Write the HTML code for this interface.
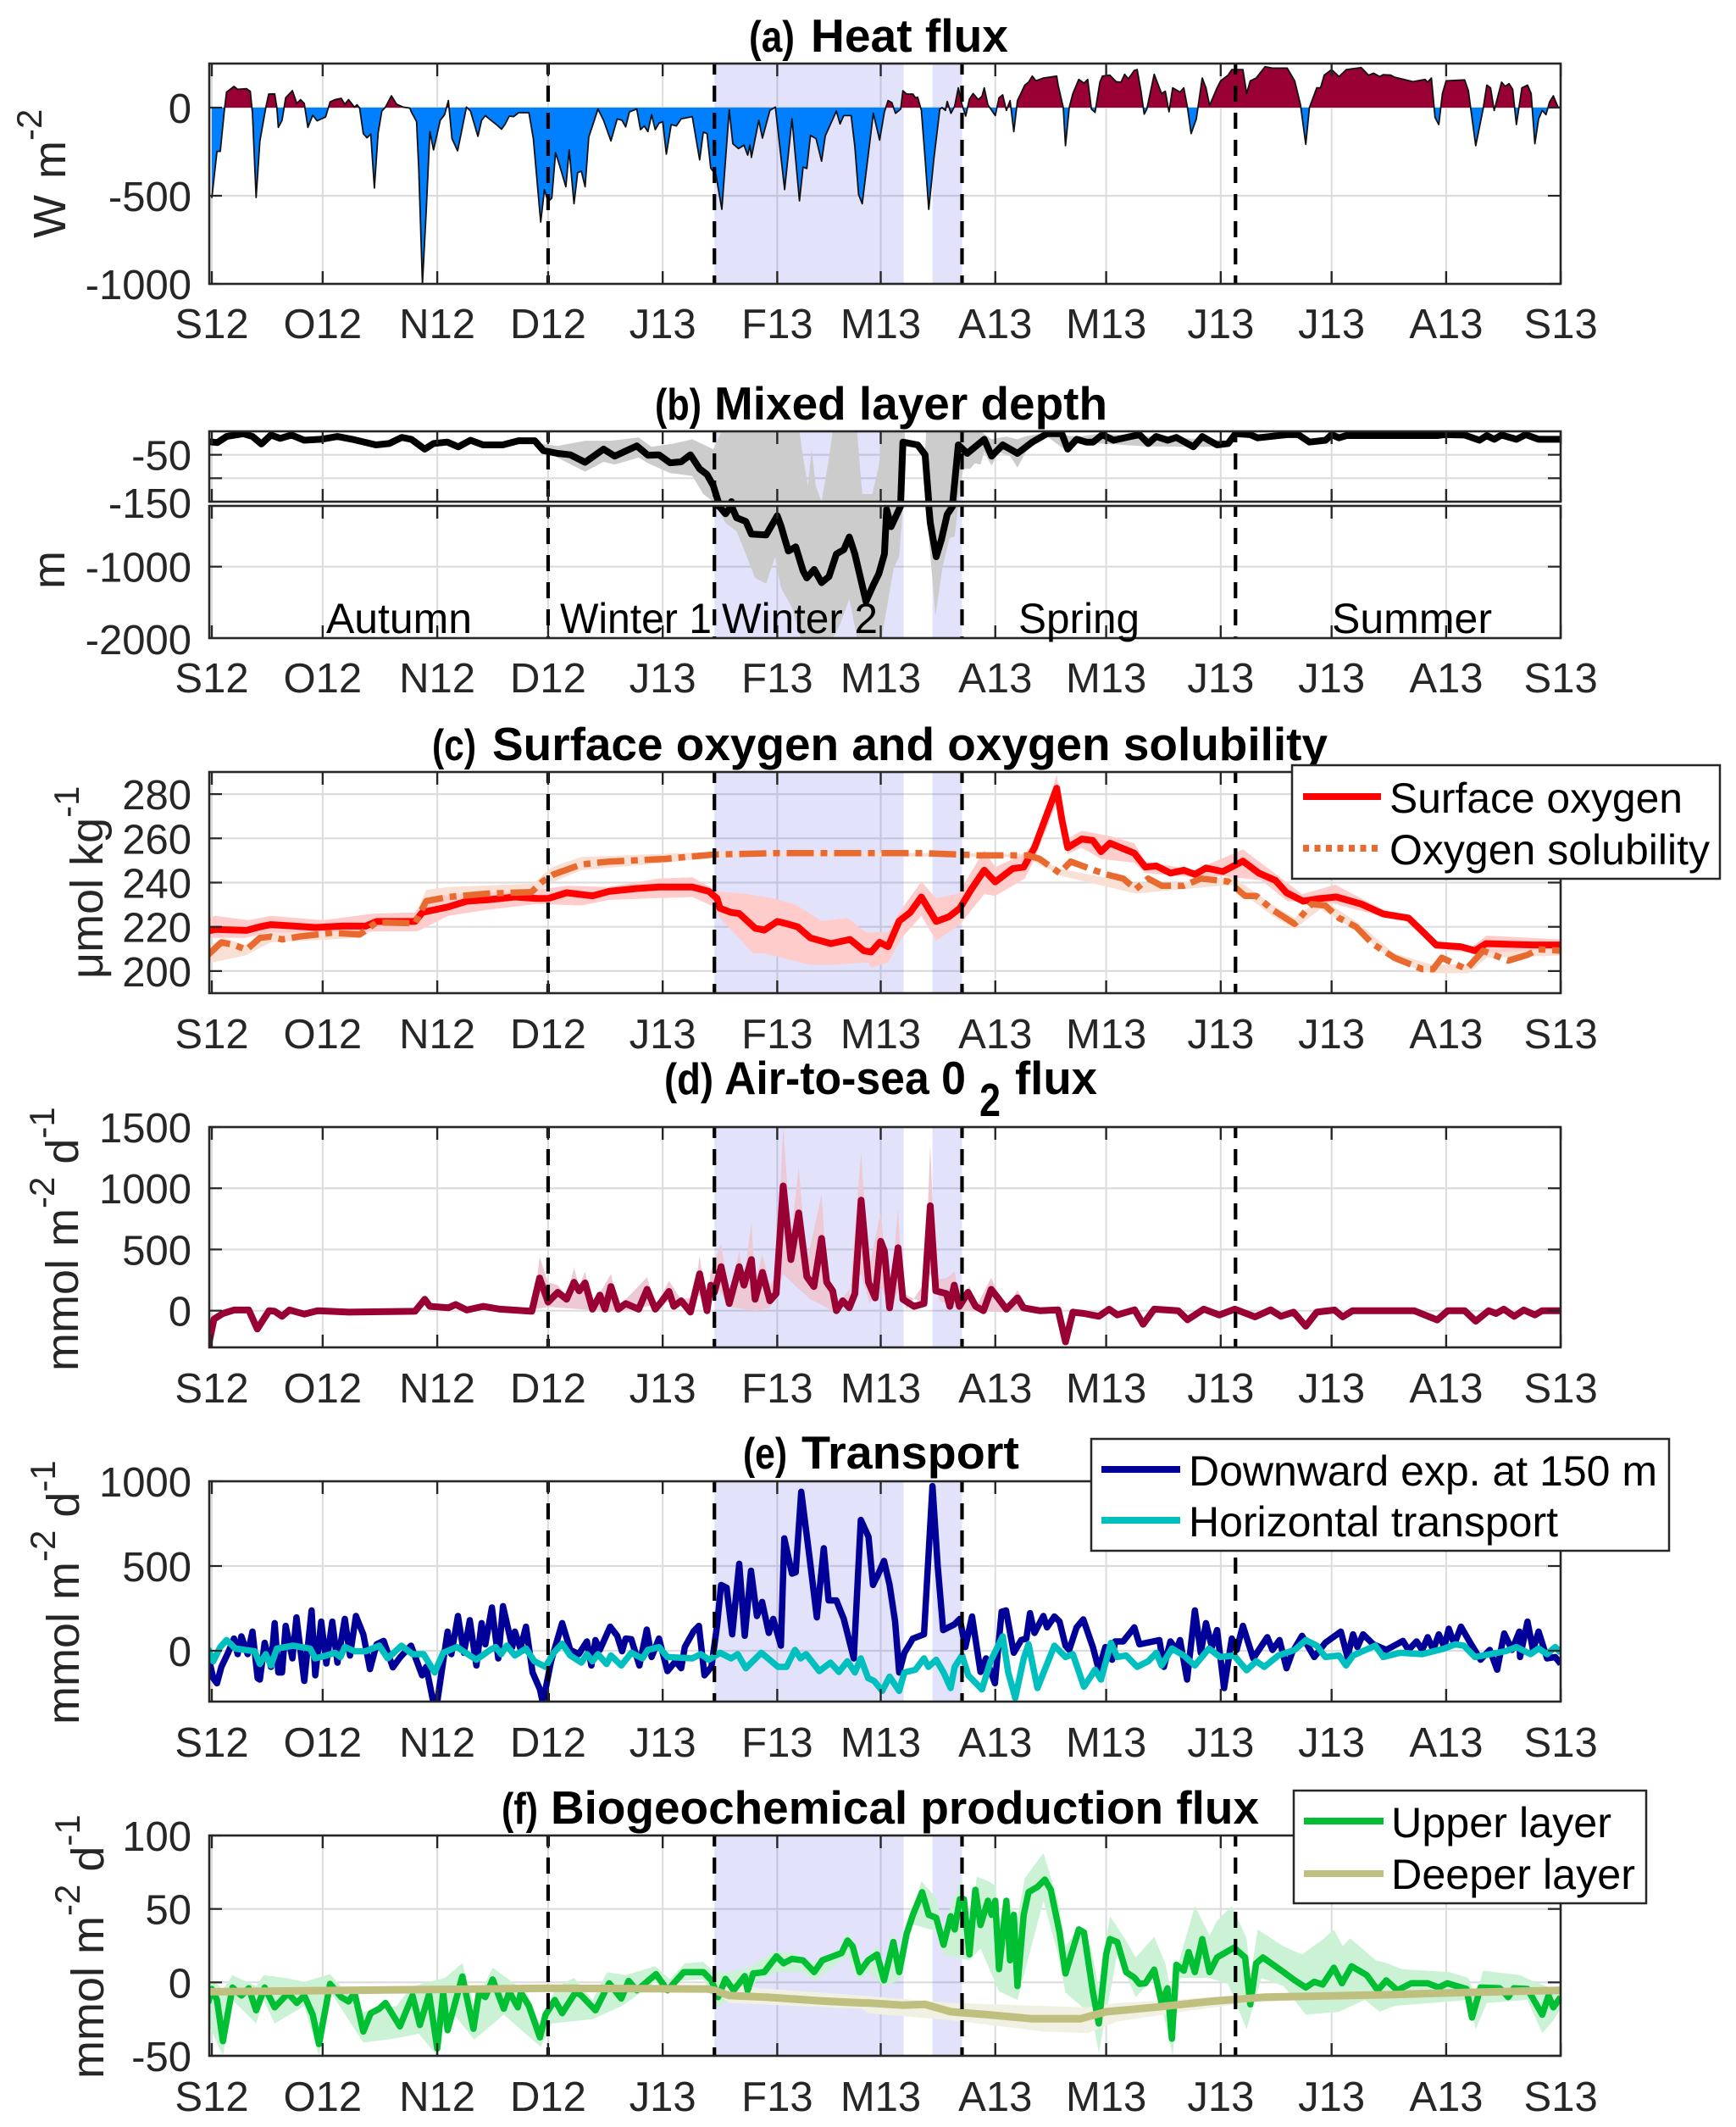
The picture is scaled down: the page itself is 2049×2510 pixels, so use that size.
<!DOCTYPE html>
<html lang="en">
<head>
<meta charset="utf-8">
<title>Heat flux, mixed layer depth, oxygen and transport time series</title>
<style>
html,body{margin:0;padding:0;background:#fff;}
svg{display:block;font-family:"Liberation Sans",Arial,sans-serif;}
</style>
</head>
<body>
<svg id="figure" xmlns="http://www.w3.org/2000/svg" width="2049" height="2510" viewBox="0 0 2049 2510">
<rect x="0" y="0" width="2049" height="2510" fill="#ffffff"/>
<defs id="clips"></defs>
<g id="plots"></g>

<g fill="#000" font-weight="bold" font-size="55">
<text x="884" y="61" font-size="52" textLength="54" lengthAdjust="spacingAndGlyphs">(a)</text>
<text x="957" y="61" textLength="233" lengthAdjust="spacingAndGlyphs">Heat flux</text>
<text x="773" y="495" font-size="52" textLength="55" lengthAdjust="spacingAndGlyphs">(b)</text>
<text x="843" y="495" textLength="464" lengthAdjust="spacingAndGlyphs">Mixed layer depth</text>
<text x="510" y="897" font-size="52" textLength="52" lengthAdjust="spacingAndGlyphs">(c)</text>
<text x="581" y="897" textLength="986" lengthAdjust="spacingAndGlyphs">Surface oxygen and oxygen solubility</text>
<text x="784" y="1291" font-size="52" textLength="58" lengthAdjust="spacingAndGlyphs">(d)</text>
<text x="855" y="1291" textLength="285" lengthAdjust="spacingAndGlyphs">Air-to-sea 0</text>
<text x="1156" y="1317" textLength="25" lengthAdjust="spacingAndGlyphs">2</text>
<text x="1198" y="1291" textLength="97" lengthAdjust="spacingAndGlyphs">flux</text>
<text x="877" y="1733" font-size="52" textLength="52" lengthAdjust="spacingAndGlyphs">(e)</text>
<text x="946" y="1733" textLength="257" lengthAdjust="spacingAndGlyphs">Transport</text>
<text x="592" y="2152" font-size="52" textLength="43" lengthAdjust="spacingAndGlyphs">(f)</text>
<text x="650" y="2152" textLength="836" lengthAdjust="spacingAndGlyphs">Biogeochemical production flux</text>
</g>

<g fill="#262626" font-size="54">
<text transform="translate(77,281) rotate(-90)" word-spacing="4">W m<tspan dy="-28" font-size="42">-2</tspan></text>
<text transform="translate(76,695) rotate(-90)">m</text>
<text transform="translate(121,1155) rotate(-90)">μmol kg<tspan dy="-28" font-size="42">-1</tspan></text>
<text transform="translate(92,1618) rotate(-90)">mmol m<tspan dy="-28" font-size="42">-2</tspan><tspan dy="28"> d</tspan><tspan dy="-28" font-size="42">-1</tspan></text>
<text transform="translate(93,2035) rotate(-90)">mmol m<tspan dy="-28" font-size="42">-2</tspan><tspan dy="28"> d</tspan><tspan dy="-28" font-size="42">-1</tspan></text>
<text transform="translate(122,2453) rotate(-90)">mmol m<tspan dy="-28" font-size="42">-2</tspan><tspan dy="28"> d</tspan><tspan dy="-28" font-size="42">-1</tspan></text>
</g>

<g fill="#000" font-size="50">
<text x="385" y="747" textLength="172" lengthAdjust="spacingAndGlyphs">Autumn</text>
<text x="661" y="747" textLength="179" lengthAdjust="spacingAndGlyphs">Winter 1</text>
<text x="852" y="747" textLength="184" lengthAdjust="spacingAndGlyphs">Winter 2</text>
<text x="1202" y="747" textLength="143" lengthAdjust="spacingAndGlyphs">Spring</text>
<text x="1572" y="747" textLength="189" lengthAdjust="spacingAndGlyphs">Summer</text>
</g>

<g font-size="50" fill="#000">
<rect x="1525" y="903" width="505" height="134" fill="#fff" stroke="#262626" stroke-width="2.5"/>
<line x1="1538" y1="940" x2="1630" y2="940" stroke="#ff0000" stroke-width="8"/>
<text x="1640" y="959" textLength="346" lengthAdjust="spacingAndGlyphs">Surface oxygen</text>
<line x1="1538" y1="1001" x2="1630" y2="1001" stroke="#e86a2e" stroke-width="8" stroke-dasharray="7 6.5"/>
<text x="1640" y="1020" textLength="378" lengthAdjust="spacingAndGlyphs">Oxygen solubility</text>
</g>

<g font-size="50" fill="#000">
<rect x="1288" y="1698" width="682" height="132" fill="#fff" stroke="#262626" stroke-width="2.5"/>
<line x1="1300" y1="1734" x2="1393" y2="1734" stroke="#000099" stroke-width="8"/>
<text x="1403" y="1753" textLength="553" lengthAdjust="spacingAndGlyphs">Downward exp. at 150 m</text>
<line x1="1300" y1="1794" x2="1393" y2="1794" stroke="#00bfbf" stroke-width="8"/>
<text x="1403" y="1813" textLength="436" lengthAdjust="spacingAndGlyphs">Horizontal transport</text>
</g>

<g font-size="50" fill="#000">
<rect x="1527" y="2113" width="416" height="133" fill="#fff" stroke="#262626" stroke-width="2.5"/>
<line x1="1539" y1="2149" x2="1633" y2="2149" stroke="#00bf33" stroke-width="8"/>
<text x="1642" y="2168" textLength="260" lengthAdjust="spacingAndGlyphs">Upper layer</text>
<line x1="1539" y1="2211" x2="1633" y2="2211" stroke="#bfbf80" stroke-width="8"/>
<text x="1642" y="2229" textLength="288" lengthAdjust="spacingAndGlyphs">Deeper layer</text>
</g>
</svg>

<script>
// ---- shared axis data ----
const monthDays = [0,30,61,91,122,153,181,212,242,273,303,334,365];
const monthLabels = ['S12','O12','N12','D12','J13','F13','M13','A13','M13','J13','J13','A13','S13'];
const seasonBoundaryDays = [91,136,203,277];
const shadeStartDays = [136,195];
const shadeEndDays = [187.2,203];

// ---- panel (a) heat flux ----
const heatDays = [
0,1.4,2.3,3.4,4,6,7,9.4,10.4,11,
12,13,14.6,15.4,17,17.6,18,19,20,21.8,
23,24,25,26,27.3,28.5,30.8,32,33.3,35,
36,37,38.6,39.3,40,41,42,43,44,45,
46,47,48.6,50,51.8,53.6,54,55.4,56,57,
58,59,60,61.8,63,64,65,66.5,67.5,68.9,
70,72,73,74,76,77,78.4,79.3,80.5,81.7,
83,85.8,87,89,90,91,92,93,94,95.8,
96.7,98,99,100,101,102,104.5,106,108,109.7,
111,112,113,115,116,117,118,119,120,121,
122,123,124.3,125.7,127,130,132,133,134,135,
136.4,138,140,141,142.5,144,145,145.6,146,148,
149,151,152.5,153.7,155,157,159,160,161,162,
163.5,165,166,169,170,171,173,174,175,176,
177.7,179,180.7,182,183,184,185,186.4,187,188,
189.7,190.4,191,192,193,194,195.4,197,197.6,198.5,
199,200,201,202,203,204,205,206,207.4,208.4,
209,210,212,213,214,215,216,217,218,220,
221,222,223,225,228.6,229,230.4,231,232,233,
234.6,236,237,238,239,240.3,241,243,244.7,246,
247,248,249.6,250.4,251.4,252.3,253,255,257,258,
259,260,262,263,264,265,266.4,268,269,270,
272,273,275,276,279,280,281,282.6,285,287,
291,293,294.6,296,297,299,300,301,303,305,
307,311,313,314.4,316,317,319,320,325,328.3,
329,330,331,332,333,334,339,340,342,344,
345,346,347,349,350,351,352,353,354.5,356,
357,358,359,360,361,362,363,364.3,365];
const heatValues = [
-513,-248,-248,-16,88,120,104,107,93,-32,
-510,-192,0,77,78,0,-112,-72,56,96,
24,45,24,-112,-43,-75,-53,32,45,53,
19,45,3,16,-3,-147,-171,-150,-456,-144,
-19,3,67,19,3,-3,-24,-80,-352,-1000,
-593,-136,-240,-72,-40,40,-176,-245,-144,3,
-19,-163,-72,-45,-80,-96,-122,-96,-48,-51,
-29,-29,-176,-649,-465,-534,-513,-256,-320,-449,
-240,-545,-369,-360,-449,-168,-8,-72,-189,-64,
-72,-109,-24,-8,-125,-104,-136,-40,-125,-88,
-80,-264,-96,-104,-64,-51,-296,-139,-147,-344,
-381,-577,-13,-205,-232,-213,-269,-213,-282,-72,
-173,-16,3,-221,-465,-64,-529,-337,-345,-157,
-176,-304,-160,-19,-93,-45,-45,-221,-493,-545,
-256,-32,-184,-24,40,29,-32,-8,96,77,
77,56,59,-16,-288,-577,-288,-8,0,-16,
35,-32,8,112,16,-48,48,80,45,64,
112,16,-45,56,72,-16,40,-136,40,128,
144,179,152,168,179,128,0,-216,0,80,
160,139,160,-8,-27,144,179,184,147,144,
189,163,211,216,96,-37,-8,189,80,93,
-24,112,88,112,0,-147,-64,168,112,13,
112,152,184,216,216,80,152,168,232,224,
224,152,16,-208,0,112,112,184,216,176,
216,227,184,195,176,187,184,173,147,160,
144,168,-56,-96,80,152,157,96,-216,-8,
128,112,-16,144,120,136,104,-96,112,128,
80,-205,-64,-16,-40,32,67,0,5];
const heatTicks = [0,-500,-1000];
const heatTickLabels = ['0','-500','-1000'];

// ---- panel (b) mixed layer depth ----
const mldDays = [
-0.8,1.5,4,8.5,11,13.4,16,18.5,21.6,25,
29.5,34,38,44.4,48,51.4,54,57.6,60,63.7,
66.7,70,73.4,78.7,83,87.4,89.7,93.5,97,101,
106,109,115,118,121,124,127,129.5,132,134,
135.7,137,137.5,139,140.6,142,144.5,146,150,153,
154,156,158,160,161,163,165,167,169,171,
172.5,174,177,179,180.5,182,182.6,183.8,186.4,187,
191,193,194,194.4,196,197.4,199,200.5,202,204.4,
209,211,214,218,222,226,230,231.6,234,236.6,
238.5,241,244,248.6,251,253.4,255.5,258.7,261,265.6,
268,272,275,277,281,283,291,294,297,301.4,
303,305,307,331.6,333.5,339,343,345,347,349,
353,355.5,359,365];
const mldValues = [
-22,-24,-11,-5,-11,-27,-8,-15,-8,-19,
-17,-11,-17,-29,-26,-13,-17,-38,-26,-23,
-33,-19,-29,-29,-20,-20,-41,-47,-50,-66,
-38,-53,-31,-51,-50,-67,-65,-50,-80,-92,
-116,-149,-170,-260,-150,-316,-367,-545,-557,-288,
-427,-782,-723,-1059,-1158,-1039,-1225,-1138,-822,-763,
-585,-822,-1486,-1257,-1099,-822,-200,-440,-150,-23,
-29,-50,-150,-387,-861,-624,-269,-150,-29,-47,
-17,-53,-29,-47,-23,-5,-5,-38,-17,-23,
-23,-7,-19,-11,-7,-26,-11,-19,-13,-33,
-11,-29,-26,-5,-7,-14,-7,-7,-23,-19,
-7,-14,-9,-9,-7,-8,-19,-9,-17,-8,
-17,-7,-17,-17];
const mldShallowDays = [
88,93.5,101,108,115.5,119,125,130,135.7,138,
159,160,161.3,162.3,163.4,165,167,168,174.6,176,
178.7,180.5,181.3,187.4,187.8,193,193.3,202,204,208,
211,215,218,220,226,234,240,276,277];
const mldShallowValues = [
-25,-31,-20,-20,-13,-33,-26,-17,-38,0,
0,-56,-116,-38,-116,-150,-56,0,0,-134,
-134,-74,0,0,-25,-40,0,0,-2,0,
-17,-11,-17,-11,-2,-12,-5,-20,-4];
const mldDeepDays = [
88,93.5,101,106,109,115.5,118,124,127,130,
133,135.7,136.6,139,142,144.5,147,150,152.4,154,
157,159.4,168,170,172.5,174.6,181.3,182,184.5,186,
187,187.8,193,193.3,195.8,197.7,199.6,201,202,203.3,
205.2,206.5,208,209,211,212.8,216,218,220.3,222,
226,231.6,234,253,272,277];
const mldDeepValues = [
-25,-56,-86,-65,-71,-56,-68,-89,-92,-95,
-134,-150,-150,-387,-506,-822,-1158,-1237,-862,-1296,
-1573,-2000,-2000,-1810,-1454,-2000,-2000,-1770,-1020,-860,
-150,-25,-40,-150,-1690,-1015,-600,-580,-150,-80,
-80,-68,-71,-44,-74,-44,-53,-77,-44,-29,
-11,-44,-23,-32,-33,-8];
const mldUpperTicks = [-50,-100];
const mldUpperTickLabels = ['-50',''];
const mldLowerTicks = [-1000];
const mldLowerTickLabels = ['-1000'];

// ---- panel (c) oxygen ----
const oxygenDays = [
-1,1,9.4,13,16,22,28,35.6,41.6,44.6,
50,55,57,64,69,74.5,82,88,91,96,
103,107.5,115,121,130,134.5,136.7,137.5,140.5,142.7,
147,149.5,153,155.5,158.5,162,167.5,172.7,176.4,178.4,
180.7,183,186,189,192,196,199.4,202.4,205.4,209,
212,216.7,219.7,222.6,228.6,230,231.6,235.4,238.4,240.6,
243,249.6,252.6,255.6,259.4,263,266,269,273.6,279,
283.3,287.8,290.8,295.3,299.8,304.3,311,317,323.8,327.5,
331.3,338,341.8,344.8,357.5,365];
const oxygenValues = [
218.1,218.8,218.4,220,221,220.4,219.7,220.4,220.3,222.4,
222.4,222.4,226.5,229,231.6,232.2,233.5,232.8,232.8,235.4,
234,236,237.3,238,238,236,232.8,228.4,226.5,226,
219.4,218.5,222.4,221.4,220,215,212.4,214.3,209.2,208.6,
213,211,222.6,226.5,233.5,222.4,224.5,228.4,236.7,245.6,
240.3,246.3,247,255.8,282.7,268.6,255.8,259.7,259,254,
257.8,253.3,247,247.5,244.3,245.6,243.7,246.6,245,249.7,
244.3,241,235.4,231.6,232.8,233.5,230.3,225.8,224,218,
211.8,211,209.2,212.4,211.8,211.8];
const oxygenHighDays = [
-1,1,10,16,30,44,55,58,69,88,
96,107,121,130,137,145,152,158,165,172,
177,183,186,192,196,202,209,212,220,224,
228.6,230,231.6,235.4,243,249.6,252.6,266,279,287.8,
295,304,317,324,331,341,345,365];
const oxygenHighValues = [
223.9,225,223,225,223,226,226.5,233.5,235,236.7,
238.6,238,241.8,242.4,236,234.8,232.8,230,222.6,224,
217.5,217.5,226.5,240.5,232.8,235,254.6,247,253,262,
289,275,259.7,263.5,261,257.8,249.5,245.6,255,244,
234.8,239,227.7,225,213.7,211,216,214.3];
const oxygenLowDays = [
-1,9,16,31,45,55.7,64,74.5,88,100,
107.5,130,136,137.5,146.5,149.5,162,167.5,177.7,178.4,
183,186.7,192,196,202.4,209,212,220,222.6,228.6,
231.6,235.4,240.6,249.6,252.6,266,273.6,284,291,304,
317,324,331,342,365];
const oxygenLowValues = [
215,215,217.5,217.5,218,218,225,227.7,230.3,229.6,
232.2,233.5,229,224,208,208,202.8,202.8,204,201.5,
204,215,225,213.7,221,234.8,234,241.8,250.7,276,
253,255.8,250.7,249,244.3,242.4,243,241,231.6,230.3,
224.5,222.6,210,208,209.8];
const solubilityDays = [
-1,2.6,6,9.4,13,16,19,23.6,32.6,40,
44.6,55,58,64,74.5,86.5,89.5,92.5,100,107.5,
122.5,136,152.5,177.7,192.7,207.7,221,224,229.4,232.4,
237.6,242,246.6,250,253.4,257,263,267.6,275,279.6,
282.6,287,293,297.6,301.3,305,309.6,314,320,327.5,
330.5,332.8,339.5,344,350.8,356,359,365];
const solubilityValues = [
207.3,213,211.8,209.6,215,215.6,214.3,215.6,217.3,216.5,
222,221.6,231.6,233.5,235,235.7,240.5,243.7,248.2,249.5,
250.7,252.7,253.3,253.3,253.3,252.3,252.3,250.7,244.3,249.5,
246.3,243.7,241.8,237,241.8,238.6,238.6,241.8,240.5,234,
234,227.7,221.3,230.3,229.6,224,220,212.4,206,200.9,
200.9,206,200.9,209.2,204.7,207.3,209.8,209.2];
const solubilityHighDays = [
-1,3,9,16,40,45,55,58,64,87,
92,100,122,136,220,230,250,263,276,287,
293,300,310,320,330,340,345,365];
const solubilityHighValues = [
211,215,211.8,217.5,218,225,225,236.7,238,239.5,
247,251.6,253,254,253,246,239.5,240,243,230,
224,233,222,208,203,203,212,211.5];
const solubilityLowDays = [
-1,9,16,40,45,56,60,87,92,100,
122,136,150,220,230,250,263,276,287,293,
300,310,320,330,340,345,365];
const solubilityLowValues = [
203.5,207,213,215,219.4,219.4,228.4,233.5,240,245.6,
248.8,251.4,252,251.5,243,235,237,239,225,219,
228,218,204,199,199,206,207];
const oxygenTicks = [200,220,240,260,280];
const oxygenTickLabels = ['200','220','240','260','280'];

// ---- panel (d) air-to-sea flux ----
const airSeaDays = [
-1,0.6,3,6,10,12.3,15.5,17,19,21,
25,28.6,37,55,57.6,59,64,66,69,73.4,
78,86.6,88.7,91,93.6,96,98,99.4,101,103,
105,106.4,108,110,112,115.5,117.8,120,121.6,123.7,
125,127,129.5,132,134,135,136,137.8,140,142.7,
144,146,147,149,151,152.7,154.6,156.7,158.8,161,
162.9,165,166.4,168,169,170.7,172.5,174,175.7,177.7,
179.5,181,182,183.4,185.7,187,190,192.7,194.4,195.9,
198.8,199.7,200.9,202.3,204.6,206.7,208.8,210.9,213,215,
218,219.6,224,229,231,233,236,240,242.8,245,
249.7,252,255,261.5,264,268.4,272.6,276.8,282.3,286.5,
289.3,292.7,296,299,303.8,306,308.7,325.3,331.6,334.4,
339,342,345.5,347.5,349.6,352.4,355,358,360,365];
const airSeaValues = [
-300,-69,-23,5,5,-150,0,-5,-46,5,
-28,0,-12,-5,93,35,23,50,5,35,
12,-5,266,70,150,93,232,162,227,12,
127,12,197,12,58,12,174,12,70,157,
35,81,-12,301,0,208,150,359,58,359,
208,417,93,313,81,139,1019,417,799,278,
197,590,232,162,0,81,23,139,903,232,
104,567,486,23,514,93,35,58,857,162,
139,35,208,35,150,35,0,174,93,12,
104,23,0,7,-255,-12,-23,-46,12,-35,
7,-111,12,0,-74,12,-35,12,-51,7,
-46,-12,-127,-12,5,-51,0,0,-76,0,
0,-86,0,-23,12,-46,5,-35,0,0];
const airSeaHighDays = [
87,88.7,91,93.6,96,98,
99.4,101,103,108,110,117.8,120,123.7,127,130,
132,134,135,137.8,140,142.7,144,146,147,149,
151,152.7,154.6,156.7,158.8,161,165,166.4,169,172.5,
175.7,177.7,181,183.4,185.7,187,192.7,194.4,195.9,198.8,
201,202.3,205,207,210.9,213,215.5,218,221];
const airSeaHighValues = [
10,440,232,208,120,347,
200,320,40,300,30,273,30,243,90,20,
444,10,324,544,120,486,260,722,232,463,
208,278,1505,602,1169,394,949,324,23,60,
1296,324,810,60,833,140,58,1354,255,266,
324,60,200,40,270,120,40,170,10];
const airSeaLowDays = [
87,91,110,132,137,140,147,151,
154.6,158,162,168,175.7,178,181,184,186,188,
194.4,197,203,213,221];
const airSeaLowValues = [
10,30,-10,120,180,30,0,20,
300,200,93,0,300,60,200,0,200,10,
300,80,0,-10,10];
const airSeaTicks = [0,500,1000,1500];
const airSeaTickLabels = ['0','500','1000','1500'];

// ---- panel (e) transport ----
const downwardDays = [
-1,0.4,1.4,2.6,4.4,6,7,8,9.7,11,
12.4,13,14.3,16,17,18,19,20,21.8,22.9,
25,27,28,29.6,31,32.6,34,36,37.4,39,
41,42.8,44.6,46.5,49,51,53.9,56.9,58,59.9,
61,62.6,63.8,64.8,66.6,68.2,69.8,71.6,73,74,
75.8,77.5,78.8,81.3,82,83.5,85,86.8,88.8,89.5,
90.3,91.8,94.8,97,99.3,101.5,102.7,103.8,105,107.8,
109.7,111,112,113.5,115.7,117.7,119,121,123.3,125.5,
127,128,130.3,131.8,133.3,135.2,136.7,137.8,139.3,140.8,
142.7,144.2,145.9,147.5,148.9,150.7,151.9,154,154.9,157,
158,159.5,161.8,163.7,165.6,166.9,169,171,173.7,175.6,
177.7,178.9,180.2,181.9,183.4,184.9,186,187.4,189.7,192.7,
195,196.4,197.9,200.9,202.4,203.9,205.7,208,209.5,211.9,
213.7,214.9,217,219,220.4,221.4,222.6,225,226,228,
229.4,231,232,234,235.8,238.4,240,241.8,243.6,244.4,
246.6,249.6,251,256.4,257.6,259.4,261,262,263.9,266,
267.6,269,270.6,272,273.9,276,277.3,279,281.8,285.6,
287,288.9,290.8,292.3,295,298.3,301.3,305.5,307.3,308.8,
310,311.5,314.3,317.8,322.3,323.8,326,327.5,329,330.5,
332,333.5,334.7,336.2,338,340.3,343.3,345.8,347.8,349.7,
351.8,353.8,354,356,357.5,359,361.3,363.5,365];
const downwardValues = [
-28,-162,-192,-95,-12,72,-20,85,-20,113,
-162,-170,47,-95,163,-128,-128,147,-45,197,
-178,238,-145,172,-75,172,-70,188,-28,205,
97,-108,38,58,-98,-37,30,-145,-95,-300,
-300,-62,113,-20,205,-12,180,-87,163,38,
255,-45,263,22,113,13,142,-128,-228,-300,
-228,-62,163,5,-20,55,-87,63,5,142,
88,-3,72,68,-87,125,-37,72,-120,-62,
-103,22,113,147,-145,-95,147,388,372,97,
513,88,472,205,288,105,188,30,663,455,
463,938,538,197,605,297,297,188,-45,772,
672,388,445,530,388,172,-128,-12,72,97,
972,505,122,155,188,22,202,-125,-45,-192,
230,238,-12,63,72,222,105,205,138,202,
172,30,5,138,185,22,-112,22,-53,55,
55,138,38,63,-95,55,5,63,-170,238,
-12,163,22,122,-220,72,5,147,-45,80,
5,63,-103,-12,88,-37,47,113,-37,97,
22,97,38,5,58,5,55,5,80,5,
97,22,130,38,142,55,-53,5,-112,102,
5,113,-37,172,5,113,-45,-37,-78];
const horizontalDays = [
-1,0.4,2.3,4,6.4,11.6,13,14.6,16,17.6,
22,26.6,28,31,33.3,34.8,36,38.6,41.6,45.3,
47.6,51.3,54.3,57.3,60.3,62.6,66.3,71.6,75.3,76.8,
78.3,79.8,82,85,87.3,90.3,92.5,94.8,97,100,
101.5,103,104.5,106.8,108,110.8,113.5,116.5,118,121,
123.3,130,132.3,134.5,137.5,140.5,142.3,144.5,148.7,153.2,
155.5,157.8,159.3,160.8,164.4,167.4,169.7,172,174,175.6,
177.6,179.2,181.4,183.4,186,187.4,190.4,192.7,193.9,196,
198,199.9,201,203,204.7,208.4,210.7,214,215.5,217.4,
219.7,221,223.4,228,231,233,236,239,240.6,243.3,
245,247.4,250.4,253.4,255.6,257,259.8,263,266,269.8,
272.8,276.6,280,282.6,284.8,288.6,293,296,299,301.3,
305,306.9,308.8,314.8,317,321.5,327.5,333.5,336.5,338.8,
341.8,350,353,356.8,359,361.3,363.5,365];
const horizontalValues = [
13,-62,22,63,13,-3,-78,-20,-87,13,
30,13,-45,-28,-12,-37,22,-3,-3,30,
-45,30,-20,-20,-128,-12,22,-53,5,22,
-20,30,-28,13,-62,-95,-12,42,-28,-70,
-20,-62,-20,-78,-28,-87,-12,-45,5,22,
-37,-45,-20,-53,-12,-45,-20,-103,-12,-95,
-95,5,-45,-20,-120,-70,-125,-62,-128,-45,
-162,-178,-237,-153,-237,-128,-112,-45,-95,-53,
-128,-220,-95,-28,-145,-228,-62,85,-128,-278,
-45,38,-220,30,-37,-20,-212,-112,-170,47,
-37,-28,-95,-62,-12,-87,13,-28,-87,13,
-37,-28,-115,-62,-95,-28,5,63,30,-37,
-28,-87,-28,30,-37,-12,-20,13,38,30,
-37,-3,22,-20,13,-20,22,-12];
const transportTicks = [0,500,1000];
const transportTickLabels = ['0','500','1000'];

// ---- panel (f) production ----
const upperDays = [
-1,0,1.4,3,5.6,8,10,12,14.3,17,
20.6,23,25,27.3,29,32,35,37,38.6,41,
43,45.3,47,50.9,54.3,56.3,58.8,61,62.6,63.8,
67.8,70.8,72.3,74,76,79,80.5,82.8,83.6,85.8,
88.8,90.3,92.8,94.8,98.5,100,103.8,107.5,110.8,112.8,
115,120.2,123.3,127.7,133,135.2,137,139,141.2,144.2,
145,146.5,149.5,152.8,154.7,157,160,163,165.2,170.4,
172,173.4,175.3,177.6,180,181.9,184.4,186,188,189.7,
192.2,194,196,198,199.9,201,202.4,203.5,205,206.6,
208,210,211,212,213,215,216,217,218,219.7,
221,223.4,225.4,227,229.4,231,234.6,236,238.4,240,
242,243,245,247.4,249.6,251,252.6,255,257,258.6,
259.8,261,263,264.3,266,268,270,272,276.6,279.6,
281,282.6,284.4,290,293,296,298.3,300.6,303.6,305.8,
308.4,312.5,315.5,317.8,320.8,324.5,329,332,334.3,339.5,
341,343.3,348.5,350.8,352.3,356,360,361.7,363,365];
const upperValues = [
-14,-4.5,-12,-40,-3.5,-9,-4,-19,-3.5,-17,
-7.4,-14,-9,-22,-42,-1,-10,-13,-7,-33.5,
-21,-18,-14,-30,-9,-29,-8,-45,-7,-32.6,
4,-31.6,-7,-10,2,-18,-6.4,-17,-7,-16,
-37.4,-22,-12,-21,-6.4,-9,-19,-0.6,-11,1,
-5.4,5.6,-5.4,7,7,1.4,-10,2.3,-5.4,4.3,
-5.4,6,7,17.8,13,16,15,7,15,20,
28.5,24.6,7,15,19,1.4,27.5,7,33,46,
61.4,46,44,25.6,45,36,56.6,56.6,19,63,
39,55.6,46,55.6,9,55.6,15,46,-2.5,46,
61.4,65,70,63,34,6,36,34,-6.4,-28,
19,29.5,27.5,7,3.3,-1,-0.6,8.7,-14,-4,
-38.4,12,8,20.7,7,29.5,7,17,23.6,17,
-15,13,17,7,1.4,-3.5,0.4,-1.5,10,-0.6,
11,5,-5.4,1.4,-5.4,-0.6,-0.6,-3.5,-0.6,-4.5,
-24,-3.5,-4,-10,-4,-4.5,-22,-9,-17,-10];
const upperHighDays = [
-1,0,3,5.6,12,14,20,25,32,41,
50,54,63,67.8,71,76,82,85,89,93,
98,103,107,112,120,124,128,133,136,140,
146,152,157,163,171,172,176,180,182,184,
186,192,196,198,200,203,205,207,210,212,
213,215,218,220,225,229,231,235,238,240,
243,247,250,255,258,260,262,266,270,272,
276,280,281,283,290,295,298,301,303.6,306,
308,315,318,322,335,340,342,344,354,357,
362,365];
const upperHighValues = [
-5,2.3,-5,5,-2.5,5,3,0.4,5.6,-20,
-16,-3,3,13,-16,10,-1,-6,-30,-3.5,
3,-12,7,5,11,2,13,14,7,7,
11,20.7,20.7,13,24.6,35,13,25,7,35,
15,69,57.6,34,52,71,30,72,69,66,
42,57.6,44,71,88,55.6,24.6,38,22.7,-4,
45,30,17,31,13,-12,17,52,32,42,
52,30,3,36,24.6,19,24.6,30,36,24.6,
30,15,13,9,7,3,-10,8,5,1.4,
-3.5,-4];
const upperLowDays = [
-1,3,5.6,12,14,17,25,29,32,41,
50,56,61,63,71,79,89,92,103,111,
120,133,137,141,149,153,160,163,172,175,
177.7,182,186,189,196,198,205,208,213,218,
225,229,231,238,240,245,250,255,257,260,
262,270,275,280,284,290,296,305,312,316,
320,340,342,345,356,360,363,365];
const upperLowValues = [
-28,-50,-12,-28,-12,-28,-16,-50,-6,-41,
-38,-35,-50,-14,-39,-22,-44,-28,-25,-16,
0,2,-17,-10,3,7,7,1,18,1,
7,-2.5,1.4,40,35,19,15,23,-6,-12,
55.6,19,-7,-22,-48,19,-10,3,-16,-50,
3,3,-1,-32,3,-2.5,-22,-20,-12,-20,
-16,-12,-32,-14,-12,-34.5,-26,-18];
const deeperDays = [-1,91,134,136,140,150,165,176,177.7,187,193,200,210,222,235,242,255,270,285,300,320,340,365];
const deeperValues = [-6.4,-4,-4.5,-5.4,-9,-10,-12.6,-14,-14,-15.5,-15,-20,-22,-24.8,-24.8,-20,-17,-13,-10,-9.3,-8.3,-6.8,-5.4];
const deeperHighDays = [-1,134,136,140,176,200,225,237,245,260,280,300,365];
const deeperHighValues = [-6,-4,-4,-2.5,-9,-14,-16,-17,-14,-12,-8,-8,-5];
const deeperLowDays = [-1,134,136,140,176,177.7,200,225,237,245,260,280,300,365];
const deeperLowValues = [-7,-5,-5.5,-14,-18,-21,-25.8,-33.5,-34.5,-26.7,-21,-14,-11,-6];
const productionTicks = [-50,0,50,100];
const productionTickLabels = ['-50','0','50','100'];

// ---- axis functions and drawing helpers ----
const SVG_NS = 'http://www.w3.org/2000/svg';
const plotRoot = document.getElementById('plots');
const clipRoot = document.getElementById('clips');
const AXIS_LEFT = 247, AXIS_RIGHT = 1842;
const INK = '#262626';

function xAt(day){ return 250 + day * 4.362; }

function make(tag, attrs, parent){
  const node = document.createElementNS(SVG_NS, tag);
  for (const key in attrs) node.setAttribute(key, attrs[key]);
  parent.appendChild(node);
  return node;
}

function pathThrough(days, values, yAt){
  const n = Math.min(days.length, values.length);
  const parts = [];
  for (let i = 0; i < n; i++) parts.push(xAt(days[i]).toFixed(1) + ' ' + yAt(values[i]).toFixed(1));
  return parts;
}

function beginAxes(id, top, bottom, vTop, vBottom, ticks){
  const group = make('g', {}, plotRoot);
  
  
  const clip = make('clipPath', {id: 'clip-' + id}, clipRoot);
  make('rect', {x: AXIS_LEFT, y: top, width: AXIS_RIGHT - AXIS_LEFT, height: bottom - top}, clip);
  const yAt = v => top + (vTop - v) * (bottom - top) / (vTop - vBottom);
  monthDays.forEach(day => {
    const grid = make('line', {x1: xAt(day), x2: xAt(day), y1: top, y2: bottom, stroke: '#dcdcdc', 'stroke-width': 2}, group);
    
    
  });
  ticks.forEach(v => {
    const grid = make('line', {x1: AXIS_LEFT, x2: AXIS_RIGHT, y1: yAt(v), y2: yAt(v), stroke: '#dcdcdc', 'stroke-width': 2.2}, group);
    
    
  });
  shadeStartDays.forEach((start, i) => {
    const shade = make('rect', {x: xAt(start), y: top, width: xAt(shadeEndDays[i]) - xAt(start), height: bottom - top, fill: 'rgb(60,60,230)', 'fill-opacity': 0.15}, group);
    
    
  });
  const plot = make('g', {'clip-path': 'url(#clip-' + id + ')'}, group);
  
  
  return {id, group, plot, top, bottom, yAt, ticks};
}

function endAxes(ax, tickLabels, xLabelBaseline){
  seasonBoundaryDays.forEach(day => {
    const dash = make('line', {x1: xAt(day), x2: xAt(day), y1: ax.top, y2: ax.bottom, stroke: '#000', 'stroke-width': 4.2, 'stroke-dasharray': '19 13', 'stroke-dashoffset': 6}, ax.group);
    
    
  });
  monthDays.forEach(day => {
    const tickTop = make('line', {x1: xAt(day), x2: xAt(day), y1: ax.top, y2: ax.top + 15, stroke: INK, 'stroke-width': 2.4}, ax.group);
    
    
    const tickBottom = make('line', {x1: xAt(day), x2: xAt(day), y1: ax.bottom - 15, y2: ax.bottom, stroke: INK, 'stroke-width': 2.4}, ax.group);
    
    
  });
  ax.ticks.forEach((v, i) => {
    const tickLeft = make('line', {x1: AXIS_LEFT, x2: AXIS_LEFT + 15, y1: ax.yAt(v), y2: ax.yAt(v), stroke: INK, 'stroke-width': 2.2}, ax.group);
    
    
    const tickRight = make('line', {x1: AXIS_RIGHT - 15, x2: AXIS_RIGHT, y1: ax.yAt(v), y2: ax.yAt(v), stroke: INK, 'stroke-width': 2.2}, ax.group);
    
    
    if (tickLabels[i]) {
      const label = make('text', {x: 226, y: ax.yAt(v) + 18, 'text-anchor': 'end', 'font-size': 49, fill: INK}, ax.group);
      label.textContent = tickLabels[i];
      
      
    }
  });
  const box = make('rect', {x: AXIS_LEFT, y: ax.top, width: AXIS_RIGHT - AXIS_LEFT, height: ax.bottom - ax.top, fill: 'none', stroke: INK, 'stroke-width': 2.6}, ax.group);
  
  
  if (xLabelBaseline) {
    monthDays.forEach((day, i) => {
      const label = make('text', {x: xAt(day), y: xLabelBaseline, 'text-anchor': 'middle', 'font-size': 49, fill: INK}, ax.group);
      label.textContent = monthLabels[i];
      
      
    });
  }
}

function addLine(ax, days, values, color, width, name, dash){
  const attrs = {d: 'M' + pathThrough(days, values, ax.yAt).join('L'), fill: 'none', stroke: color, 'stroke-width': width, 'stroke-linejoin': 'round'};
  if (dash) attrs['stroke-dasharray'] = dash;
  const node = make('path', attrs, ax.plot);
  
  
}

function addBand(ax, hiDays, hiValues, loDays, loValues, color, name){
  const upper = pathThrough(hiDays, hiValues, ax.yAt);
  const lower = pathThrough(loDays, loValues, ax.yAt).reverse();
  const node = make('path', {d: 'M' + upper.concat(lower).join('L') + 'Z', fill: color}, ax.plot);
  
  
}

// ---- panel a ----
const axA = beginAxes('heat-flux', 75, 335, 250, -1000, heatTicks);
const zeroY = axA.yAt(0);
const heatOutline = pathThrough(heatDays, heatValues, axA.yAt);
const heatArea = 'M' + xAt(heatDays[0]).toFixed(1) + ' ' + zeroY.toFixed(1) + 'L' + heatOutline.join('L') + 'L' + xAt(heatDays[heatDays.length - 1]).toFixed(1) + ' ' + zeroY.toFixed(1) + 'Z';
const warmClip = make('clipPath', {id: 'clip-warm'}, clipRoot);
make('rect', {x: AXIS_LEFT, y: 75, width: AXIS_RIGHT - AXIS_LEFT, height: zeroY - 75}, warmClip);
const coolClip = make('clipPath', {id: 'clip-cool'}, clipRoot);
make('rect', {x: AXIS_LEFT, y: zeroY, width: AXIS_RIGHT - AXIS_LEFT, height: 335 - zeroY}, coolClip);
const warmArea = make('path', {d: heatArea, fill: '#990033', 'clip-path': 'url(#clip-warm)'}, axA.plot);


const coolArea = make('path', {d: heatArea, fill: '#0080ff', 'clip-path': 'url(#clip-cool)'}, axA.plot);


addLine(axA, heatDays, heatValues, '#111111', 1.8, 'heat-flux-line');
endAxes(axA, heatTickLabels, 399);

// ---- panel b (two stacked axes) ----
const axB1 = beginAxes('mld-upper', 509, 592, 0, -150, mldUpperTicks);
addBand(axB1, mldShallowDays, mldShallowValues, mldDeepDays, mldDeepValues, '#cccccc', 'mld-upper-spread');
addLine(axB1, mldDays, mldValues, '#000000', 8, 'mld-upper-line');
endAxes(axB1, mldUpperTickLabels, 0);
const axB2 = beginAxes('mld-lower', 597, 753, -150, -2000, mldLowerTicks);
addBand(axB2, mldShallowDays, mldShallowValues, mldDeepDays, mldDeepValues, '#cccccc', 'mld-lower-spread');
addLine(axB2, mldDays, mldValues, '#000000', 8, 'mld-lower-line');
endAxes(axB2, mldLowerTickLabels, 817);
const mldEdgeLabels = ['-150', '-2000'];
const mldEdgeBaselines = [611, 772];
mldEdgeLabels.forEach((text, i) => {
  const label = make('text', {x: 226, y: mldEdgeBaselines[i], 'text-anchor': 'end', 'font-size': 49, fill: INK}, plotRoot);
  label.textContent = text;
  
  
});

// ---- panel c ----
const axC = beginAxes('oxygen', 911, 1172, 290, 190, oxygenTicks);
addBand(axC, solubilityHighDays, solubilityHighValues, solubilityLowDays, solubilityLowValues, '#f9e0d4', 'oxygen-solubility-spread');
addBand(axC, oxygenHighDays, oxygenHighValues, oxygenLowDays, oxygenLowValues, '#ffcccc', 'surface-oxygen-spread');
addLine(axC, oxygenDays, oxygenValues, '#ff0000', 8, 'surface-oxygen-line');
addLine(axC, solubilityDays, solubilityValues, '#e86a2e', 7.5, 'oxygen-solubility-line', '32 8 8 8');
endAxes(axC, oxygenTickLabels, 1237);

// ---- panel d ----
const axD = beginAxes('air-sea-flux', 1330, 1590, 1500, -300, airSeaTicks);
addBand(axD, airSeaHighDays, airSeaHighValues, airSeaLowDays, airSeaLowValues, '#ecc9d5', 'air-sea-flux-spread');
addLine(axD, airSeaDays, airSeaValues, '#990033', 8, 'air-sea-flux-line');
endAxes(axD, airSeaTickLabels, 1655);

// ---- panel e ----
const axE = beginAxes('transport', 1748, 2008, 1000, -300, transportTicks);
addLine(axE, downwardDays, downwardValues, '#000099', 7.5, 'downward-export-line');
addLine(axE, horizontalDays, horizontalValues, '#00bfbf', 7.5, 'horizontal-transport-line');
endAxes(axE, transportTickLabels, 2073);

// ---- panel f ----
const axF = beginAxes('production', 2166, 2426, 100, -50, productionTicks);
addBand(axF, upperHighDays, upperHighValues, upperLowDays, upperLowValues, '#ccf2d6', 'upper-layer-spread');
addBand(axF, deeperHighDays, deeperHighValues, deeperLowDays, deeperLowValues, '#f1f1e3', 'deeper-layer-spread');
addLine(axF, upperDays, upperValues, '#00bf33', 7.5, 'upper-layer-line');
addLine(axF, deeperDays, deeperValues, '#bfbf80', 9, 'deeper-layer-line');
endAxes(axF, productionTickLabels, 2491);
</script>
</body>
</html>
